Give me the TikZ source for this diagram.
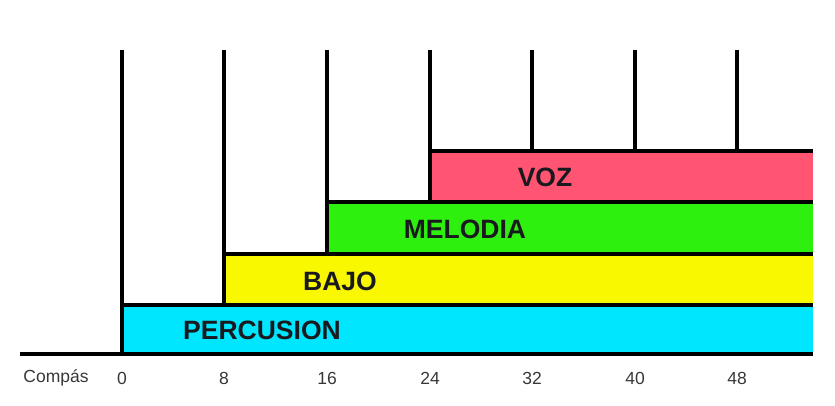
\documentclass[tikz,border=0pt]{standalone}
\usepackage{fontspec}
\setmainfont{Liberation Sans}
\definecolor{cperc}{RGB}{0,230,255}
\definecolor{cbajo}{RGB}{250,248,0}
\definecolor{cmel}{RGB}{45,240,15}
\definecolor{cvoz}{RGB}{255,85,115}
\definecolor{ctxt}{RGB}{25,25,30}
\definecolor{clab}{RGB}{55,55,55}
\tikzset{
  rule/.style={line width=3.6pt, line cap=butt},
  barlabel/.style={font=\fontsize{26.5}{26.5}\selectfont\bfseries, text=ctxt, inner sep=0pt},
  axlabel/.style={font=\fontsize{17.5}{17.5}\selectfont, text=clab, inner sep=0pt}
}
\begin{document}
\begin{tikzpicture}[x=1pt,y=-1pt]
\useasboundingbox (0,0) rectangle (835,405);
% bars
\fill[cperc] (122,305) rectangle (813,354);
\fill[cbajo] (224,254) rectangle (813,305);
\fill[cmel] (327,202) rectangle (813,254);
\fill[cvoz] (430,151) rectangle (813,202);
% coordinates
\coordinate (b0) at (20,354);
\coordinate (bE) at (813,354);
\coordinate (v0t) at (122,50);  \coordinate (v0b) at (122,354);
\coordinate (v1t) at (224,50);  \coordinate (v1b) at (224,305);
\coordinate (v2t) at (327,50);  \coordinate (v2b) at (327,254);
\coordinate (v3t) at (430,50);  \coordinate (v3b) at (430,202);
\coordinate (v4t) at (532,50);  \coordinate (v4b) at (532,151);
\coordinate (v5t) at (635,50);  \coordinate (v5b) at (635,151);
\coordinate (v6t) at (737,50);  \coordinate (v6b) at (737,151);
\coordinate (h1r) at (813,305);
\coordinate (h2r) at (813,254);
\coordinate (h3r) at (813,202);
\coordinate (h4a) at (430,151); \coordinate (h4r) at (813,151);
% rules
\draw[rule] (b0) -- (bE);
\draw[rule] (v0t) -- (v0b);
\draw[rule] (v1t) -- (v1b);
\draw[rule] (v2t) -- (v2b);
\draw[rule] (v3t) -- (v3b);
\draw[rule] (v4t) -- (v4b);
\draw[rule] (v5t) -- (v5b);
\draw[rule] (v6t) -- (v6b);
\draw[rule] (122,305) -- (h1r);
\draw[rule] (224,254) -- (h2r);
\draw[rule] (327,202) -- (h3r);
\draw[rule] (h4a) -- (h4r);
% bar labels
\node[barlabel] (tperc) at (262,330) {PERCUSION};
\node[barlabel] (tbajo) at (340,281) {BAJO};
\node[barlabel] (tmel) at (465,229) {MELODIA};
\node[barlabel] (tvoz) at (545,177) {VOZ};
% axis labels
\node[axlabel] (lc) at (56,378) {Compás};
\node[axlabel] (l0) at (122,378) {0};
\node[axlabel] (l8) at (224,378) {8};
\node[axlabel] (l16) at (327,378) {16};
\node[axlabel] (l24) at (430,378) {24};
\node[axlabel] (l32) at (532,378) {32};
\node[axlabel] (l40) at (635,378) {40};
\node[axlabel] (l48) at (737,378) {48};
\end{tikzpicture}
\end{document}
